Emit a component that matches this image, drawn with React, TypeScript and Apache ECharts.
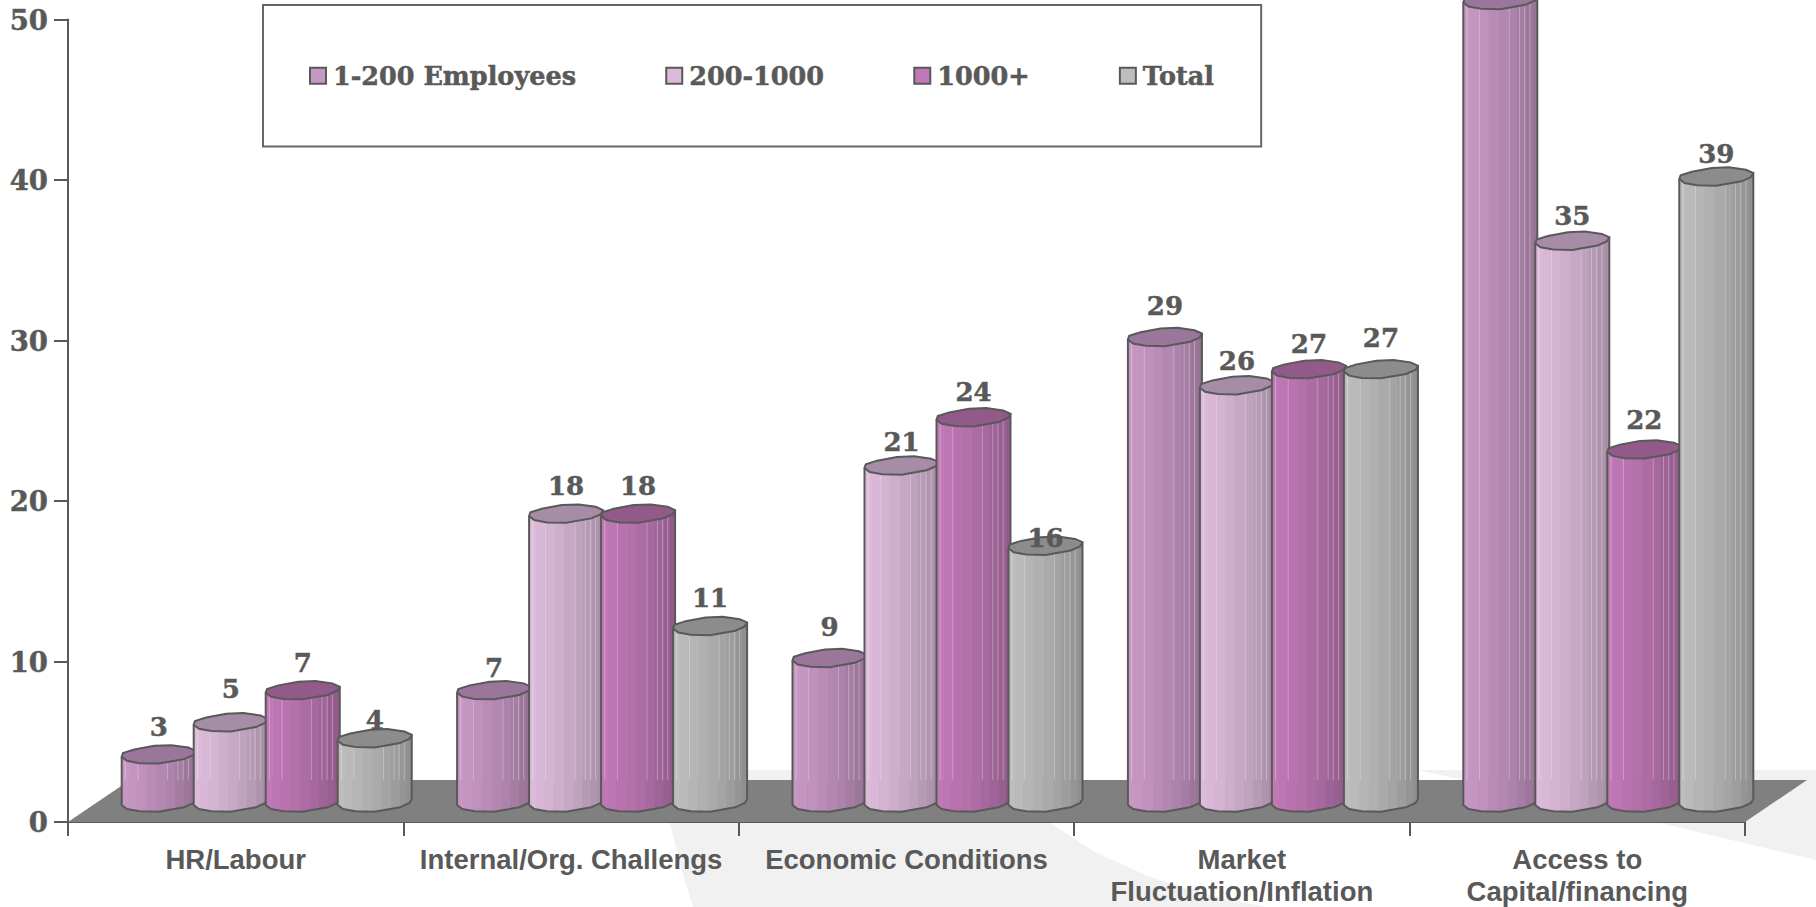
import React, { useEffect, useRef } from "react";
import * as echarts from "echarts";

const categories = ["HR/Labour", "Internal/Org. Challengs", "Economic Conditions", "Market\nFluctuation/Inflation", "Access to\nCapital/financing"];
const seriesNames = ["1-200 Employees", "200-1000", "1000+", "Total"];
const small = [3, 7, 9, 29, 50];
const medium = [5, 18, 21, 26, 35];
const large = [7, 18, 24, 27, 22];
const total = [4, 11, 16, 27, 39];
const yTicks = [0, 10, 20, 30, 40, 50];

const seriesValues = [small, medium, large, total];
const colors = ["#c797c4", "#dcbbda", "#c078b6", "#bdbdbd"];
const capColors = ["#99769a", "#a68da5", "#915a89", "#8c8c8c"];
const INK = "#595959";
const SERIF = '"DejaVu Serif", serif';

// drawing geometry, in pixels
const BAR_W = 74, BAR_STEP = 72, GROUP_OFFSET = 114, FLOOR_DX = 62, FLOOR_DY = 42, BASE_LIFT = 17;
const frontCurve = [[0, 0], [0.07, 4], [0.24, 6.3], [0.5, 6.7], [0.84, 2.3], [0.97, -2], [1, -6]];
const backCurve = [[1, -6], [0.9, -9.3], [0.67, -11.7], [0.44, -11], [0.17, -7.3], [0.017, -3.7], [0, 0]];
const stripEdges = [0, 0.09, 0.2, 0.34, 0.47, 0.6, 0.72, 0.84, 0.93, 1];
const stripShade = [1, 0.985, 0.96, 0.93, 0.9, 0.87, 0.83, 0.79, 0.76];
const highlights = [0.05, 0.22, 0.62, 0.76, 0.83, 0.9];
// per-label vertical placement, keyed by series-category
const labelNudge: Record<string, number> = {
  "0-0": 0, "0-1": 5, "0-2": -4, "0-3": -4,
  "1-0": -6, "1-2": 3.6, "1-3": 3.5, "1-4": 2.5,
  "2-0": 0, "2-2": 2.5, "2-3": 2.5, "2-4": -2,
  "3-0": 9, "3-2": 19.6, "3-3": -3.3, "3-4": 5,
};

function shade(hex: string, k: number) {
  const n = parseInt(hex.slice(1), 16);
  const c = [(n >> 16) & 255, (n >> 8) & 255, n & 255].map((v) => Math.round(v * k));
  return `rgb(${c[0]},${c[1]},${c[2]})`;
}

function curveAt(t: number) {
  for (let i = 1; i < frontCurve.length; i++) {
    const [a, ya] = frontCurve[i - 1];
    const [b, yb] = frontCurve[i];
    if (t <= b) return ya + ((yb - ya) * (t - a)) / (b - a);
  }
  return -6;
}

function barRenderer(s: number) {
  return (_p: any, api: any) => {
    const cat = api.value(0);
    const val = api.value(1);
    const [cx, y0] = api.coord([cat, 0]);
    const [, yv] = api.coord([cat, val]);
    const left = cx - GROUP_OFFSET + BAR_STEP * s;
    const yBase = y0 - BASE_LIFT;
    const yTop = yBase - (y0 - yv);
    const floorBack = y0 - FLOOR_DY;
    const children: any[] = [];
    stripEdges.slice(0, -1).forEach((t0, i) => {
      const t1 = stripEdges[i + 1];
      children.push({
        type: "polygon",
        shape: { points: [
          [left + t0 * BAR_W, yTop + curveAt(t0)], [left + t1 * BAR_W + 0.5, yTop + curveAt(t1)],
          [left + t1 * BAR_W + 0.5, yBase + curveAt(t1)], [left + t0 * BAR_W, yBase + curveAt(t0)],
        ] },
        style: { fill: shade(colors[s], stripShade[i]) },
      });
    });
    highlights.forEach((t) => {
      const x = left + t * BAR_W;
      children.push({
        type: "line",
        shape: { x1: x, y1: yTop + curveAt(t), x2: x, y2: Math.max(yTop + curveAt(t), floorBack) },
        style: { stroke: "rgba(255,255,255,0.3)", lineWidth: 1 },
      });
    });
    const outline = [
      [left, yTop], [left, yBase],
      ...frontCurve.slice(1).map(([t, d]) => [left + t * BAR_W, yBase + d]),
      [left + BAR_W, yTop - 6],
    ];
    children.push({ type: "polyline", shape: { points: outline }, style: { stroke: INK, lineWidth: 2, fill: "none" } });
    const cap = [
      ...frontCurve.map(([t, d]) => [left + t * BAR_W, yTop + d]),
      ...backCurve.slice(1).map(([t, d]) => [left + t * BAR_W, yTop + d]),
    ];
    children.push({ type: "polygon", shape: { points: cap }, style: { fill: capColors[s], stroke: INK, lineWidth: 2 } });
    const labelY = yTop - 30 + (labelNudge[`${s}-${cat}`] || 0);
    if (labelY > 0) {
      children.push({
        type: "text", z2: 50,
        style: { text: String(val), x: left + 37, y: labelY, align: "center", verticalAlign: "middle",
          font: `bold 26px ${SERIF}`, fill: INK, stroke: INK, lineWidth: 0.5 },
      });
    }
    return { type: "group", children };
  };
}

function floorRenderer(p: any, api: any) {
  const sys = p.coordSys;
  const y0 = api.coord([0, 0])[1];
  const right = sys.x + sys.width;
  return {
    type: "polygon",
    shape: { points: [[sys.x, y0], [right, y0], [right + FLOOR_DX, y0 - FLOOR_DY], [sys.x + FLOOR_DX, y0 - FLOOR_DY]] },
    style: { fill: "#808080" },
  };
}

export default function App() {
  const ref = useRef<HTMLDivElement>(null);
  useEffect(() => {
    document.body.style.margin = "0";
    const chart = echarts.init(ref.current!, undefined, { renderer: "svg" });
    chart.setOption({
      animation: false,
      backgroundColor: "#ffffff",
      grid: { left: 68, right: 71, top: 19.5, bottom: 84 },
      graphic: [
        { type: "polygon", z: 0, silent: true, shape: { points: [[700, 770], [900, 770], [1000, 790], [1050, 823], [1095, 852], [1150, 877], [1210, 895], [1265, 907], [693, 907], [680, 865], [670, 823], [660, 790]] }, style: { fill: "#f1f1f1" } },
        { type: "polygon", z: 0, silent: true, shape: { points: [[1417, 770], [1816, 770], [1816, 860], [1660, 823]] }, style: { fill: "#f1f1f1" } },
      ],
      legend: {
        data: seriesNames,
        left: 263, top: 5,
        padding: [57.5, 47, 57.5, 46],
        backgroundColor: "#ffffff",
        borderColor: "#666666", borderWidth: 2,
        itemGap: 89, itemWidth: 16, itemHeight: 16,
        icon: "rect",
        selectedMode: false,
        textStyle: { fontFamily: SERIF, fontWeight: "bold", fontSize: 25.5, color: INK, padding: [0, 0, 0, 2], textBorderColor: INK, textBorderWidth: 0.5 },
      },
      xAxis: {
        type: "category", data: categories,
        axisLine: { lineStyle: { color: INK, width: 2 } },
        axisTick: { show: true, length: 14, lineStyle: { color: INK, width: 2 } },
        axisLabel: { interval: 0, margin: 21, color: INK, fontFamily: '"Liberation Sans", Arial, sans-serif', fontWeight: "bold", fontSize: 27.5, lineHeight: 32 },
      },
      yAxis: {
        type: "value", min: yTicks[0], max: yTicks[yTicks.length - 1], interval: 10,
        splitLine: { show: false },
        axisLine: { show: true, lineStyle: { color: INK, width: 2 } },
        axisTick: { show: true, length: 14, lineStyle: { color: INK, width: 2 } },
        axisLabel: { margin: 20, color: INK, fontFamily: SERIF, fontWeight: "bold", fontSize: 27.5, textBorderColor: INK, textBorderWidth: 0.5 },
      },
      series: [
        { type: "custom", name: "floor", z: 1, silent: true, renderItem: floorRenderer, data: [[0, 0]], clip: false, encode: { x: 0, y: 1 } },
        ...seriesNames.map((name, s) => ({
          type: "custom", name, z: 3, clip: false, silent: true,
          renderItem: barRenderer(s),
          itemStyle: { color: colors[s], borderColor: INK, borderWidth: 2 },
          encode: { x: 0, y: 1 },
          data: seriesValues[s].map((v, i) => [i, v]),
        })),
      ],
    });
    return () => chart.dispose();
  }, []);
  return <div ref={ref} style={{ width: 1816, height: 907 }} />;
}
